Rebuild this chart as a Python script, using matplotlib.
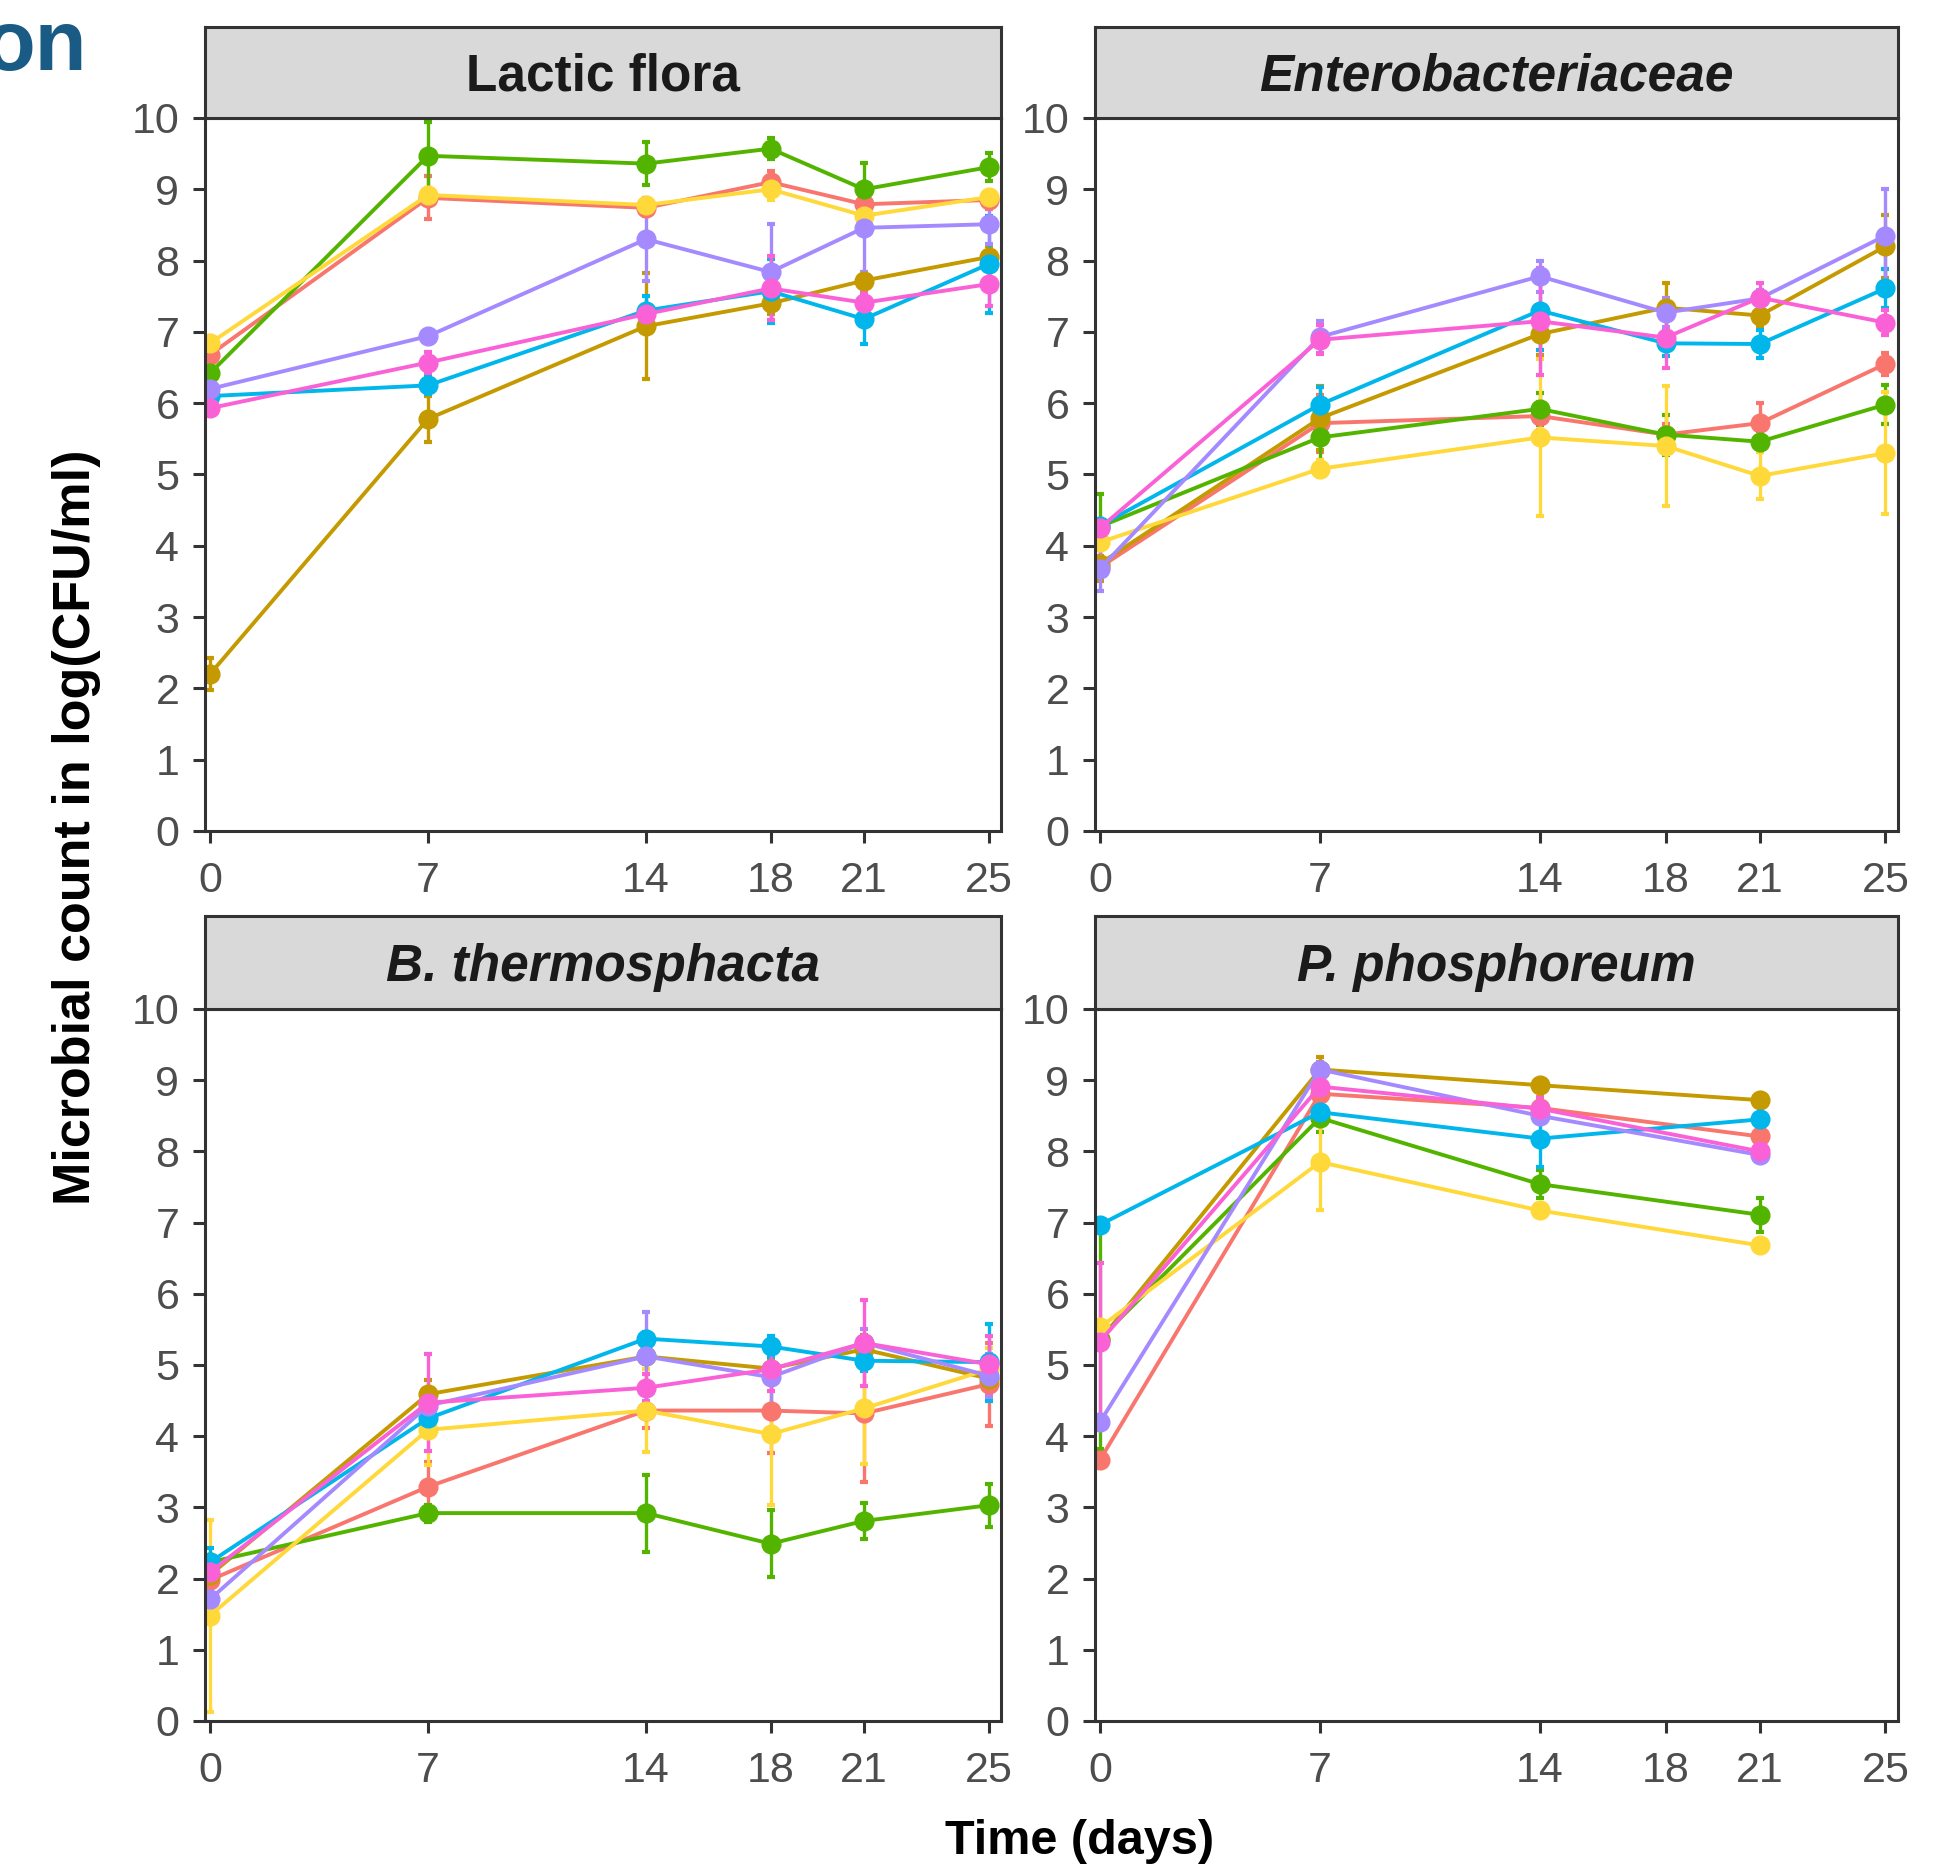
import numpy as np
import matplotlib
matplotlib.use('Agg')
import matplotlib.pyplot as plt

plt.rcParams['font.family'] = ['Liberation Sans Narrow', 'Liberation Sans', 'DejaVu Sans']

# sampling days
days = [0, 7, 14, 18, 21, 25]
days_phos = [0, 7, 14, 21]
day_ticks = [0, 7, 14, 18, 21, 25]

# series colours (same order in every panel)
colors = ['#F8766D', '#C49A00', '#53B400', '#FFD83A', '#00B6EB', '#A58AFF', '#FB61D7']

# Lactic flora
lactic_mean = [[6.68, 8.88, 8.74, 9.10, 8.79, 8.85],
               [2.20, 5.78, 7.08, 7.40, 7.72, 8.05],
               [6.42, 9.47, 9.36, 9.57, 9.00, 9.31],
               [6.84, 8.92, 8.78, 9.00, 8.63, 8.89],
               [6.10, 6.25, 7.30, 7.57, 7.18, 7.95],
               [6.20, 6.94, 8.30, 7.84, 8.46, 8.51],
               [5.93, 6.57, 7.25, 7.61, 7.41, 7.67]]
lactic_sd = [[0.15, 0.30, 0.12, 0.16, 0.10, 0.12],
             [0.22, 0.32, 0.74, 0.15, 0.12, 0.15],
             [0.10, 0.47, 0.30, 0.15, 0.37, 0.20],
             [0.10, 0.10, 0.10, 0.15, 0.10, 0.08],
             [0.05, 0.12, 0.20, 0.45, 0.35, 0.68],
             [0.08, 0.08, 0.58, 0.68, 0.62, 0.28],
             [0.10, 0.15, 0.12, 0.45, 0.15, 0.30]]

# Enterobacteriaceae
entero_mean = [[3.70, 5.72, 5.82, 5.56, 5.72, 6.55],
               [3.75, 5.79, 6.97, 7.34, 7.23, 8.20],
               [4.27, 5.52, 5.92, 5.56, 5.46, 5.98],
               [4.05, 5.08, 5.52, 5.40, 4.98, 5.30],
               [4.28, 5.98, 7.30, 6.84, 6.83, 7.61],
               [3.68, 6.93, 7.78, 7.27, 7.47, 8.35],
               [4.25, 6.89, 7.15, 6.92, 7.48, 7.13]]
entero_sd = [[0.15, 0.40, 0.20, 0.15, 0.28, 0.15],
             [0.25, 0.45, 0.30, 0.34, 0.15, 0.44],
             [0.46, 0.32, 0.22, 0.28, 0.15, 0.27],
             [0.10, 0.12, 1.10, 0.84, 0.33, 0.86],
             [0.10, 0.25, 0.55, 0.18, 0.20, 0.27],
             [0.32, 0.22, 0.22, 0.20, 0.12, 0.66],
             [0.10, 0.20, 0.75, 0.43, 0.20, 0.18]]

# B. thermosphacta
thermo_mean = [[1.98, 3.29, 4.36, 4.36, 4.32, 4.73],
               [2.05, 4.59, 5.12, 4.95, 5.22, 4.81],
               [2.23, 2.92, 2.92, 2.49, 2.81, 3.03],
               [1.48, 4.09, 4.36, 4.03, 4.39, 4.94],
               [2.23, 4.25, 5.37, 5.26, 5.06, 5.04],
               [1.71, 4.43, 5.12, 4.83, 5.31, 4.85],
               [2.09, 4.47, 4.68, 4.94, 5.31, 5.01]]
thermo_sd = [[0.15, 0.35, 0.25, 0.60, 0.97, 0.58],
             [0.10, 0.20, 0.10, 0.10, 0.20, 0.22],
             [0.10, 0.12, 0.54, 0.47, 0.25, 0.30],
             [1.35, 0.50, 0.58, 1.00, 0.78, 0.30],
             [0.20, 0.15, 0.10, 0.15, 0.15, 0.54],
             [0.10, 0.20, 0.62, 0.50, 0.20, 0.30],
             [0.15, 0.68, 0.20, 0.30, 0.60, 0.40]]

# P. phosphoreum
phos_mean = [[3.67, 8.81, 8.61, 8.21],
             [5.35, 9.15, 8.93, 8.72],
             [5.37, 8.47, 7.54, 7.11],
             [5.53, 7.85, 7.17, 6.68],
             [6.97, 8.55, 8.18, 8.45],
             [4.20, 9.15, 8.50, 7.95],
             [5.33, 8.91, 8.60, 8.00]]
phos_sd = [[0.10, 0.10, 0.15, 0.10],
           [0.10, 0.18, 0.08, 0.08],
           [1.55, 0.20, 0.20, 0.24],
           [0.10, 0.67, 0.08, 0.08],
           [0.08, 0.10, 0.40, 0.34],
           [0.10, 0.10, 0.10, 0.10],
           [1.10, 0.20, 0.15, 0.10]]

W, H = 1954, 1870
fig = plt.figure(figsize=(W / 100, H / 100), dpi=100)
dark = '#333333'

def px_rect(x0, y0, x1, y1):
    return [x0 / W, 1 - y1 / H, (x1 - x0) / W, (y1 - y0) / H]

panels = [
    ('Lactic flora', 'normal', days, lactic_mean, lactic_sd, (205, 118, 1001, 831), 27),
    ('Enterobacteriaceae', 'italic', days, entero_mean, entero_sd, (1095, 118, 1898, 831), 27),
    ('B. thermosphacta', 'italic', days, thermo_mean, thermo_sd, (205, 1009, 1001, 1721), 916),
    ('P. phosphoreum', 'italic', days_phos, phos_mean, phos_sd, (1095, 1009, 1898, 1721), 916),
]

for title, style, x, means, sds, box, strip_top in panels:
    x0, y0, x1, y1 = box
    ax = fig.add_axes(px_rect(x0, y0, x1, y1))
    for m, s, c in zip(means, sds, colors):
        ax.errorbar(x, m, yerr=s, color=c, lw=2.8, marker='o', ms=13.5, mec=c,
                    capsize=3, capthick=3, elinewidth=2.4)
    ax.set_xlim(-0.16, 25.4)
    ax.set_ylim(0, 10)
    ax.set_xticks(day_ticks)
    ax.set_yticks(range(11))
    for sp in ax.spines.values():
        sp.set_color(dark)
        sp.set_linewidth(2.2)
    ax.tick_params(length=8.5, width=2.2, color=dark, labelcolor='#4D4D4D', labelsize=31)
    ax.tick_params(axis='x', pad=13)
    ax.tick_params(axis='y', pad=10)

    sax = fig.add_axes(px_rect(x0, strip_top, x1, y0))
    sax.set_facecolor('#D9D9D9')
    sax.set_xticks([])
    sax.set_yticks([])
    for sp in sax.spines.values():
        sp.set_color(dark)
        sp.set_linewidth(2.2)
    sax.text(0.5, 0.45, title, ha='center', va='center', fontsize=37, fontweight='bold',
             fontstyle=style, color='#1A1A1A', transform=sax.transAxes)

fig.text(77 / W, 1 - 827 / H, 'Microbial count in log(CFU/ml)', rotation=90, ha='center',
         va='center', fontsize=37.5, fontweight='bold', family=['Liberation Sans', 'DejaVu Sans'])
fig.text(1080 / W, 1 - 1842 / H, 'Time (days)', ha='center', va='center', fontsize=35,
         fontweight='bold', family=['Liberation Sans', 'DejaVu Sans'])
fig.text(87 / W, 1 - 70 / H, 'on', ha='right', va='baseline', fontsize=61, fontweight='bold',
         color='#1A5B85', family=['Liberation Sans', 'DejaVu Sans'])

fig.savefig('out.png', dpi=100)
